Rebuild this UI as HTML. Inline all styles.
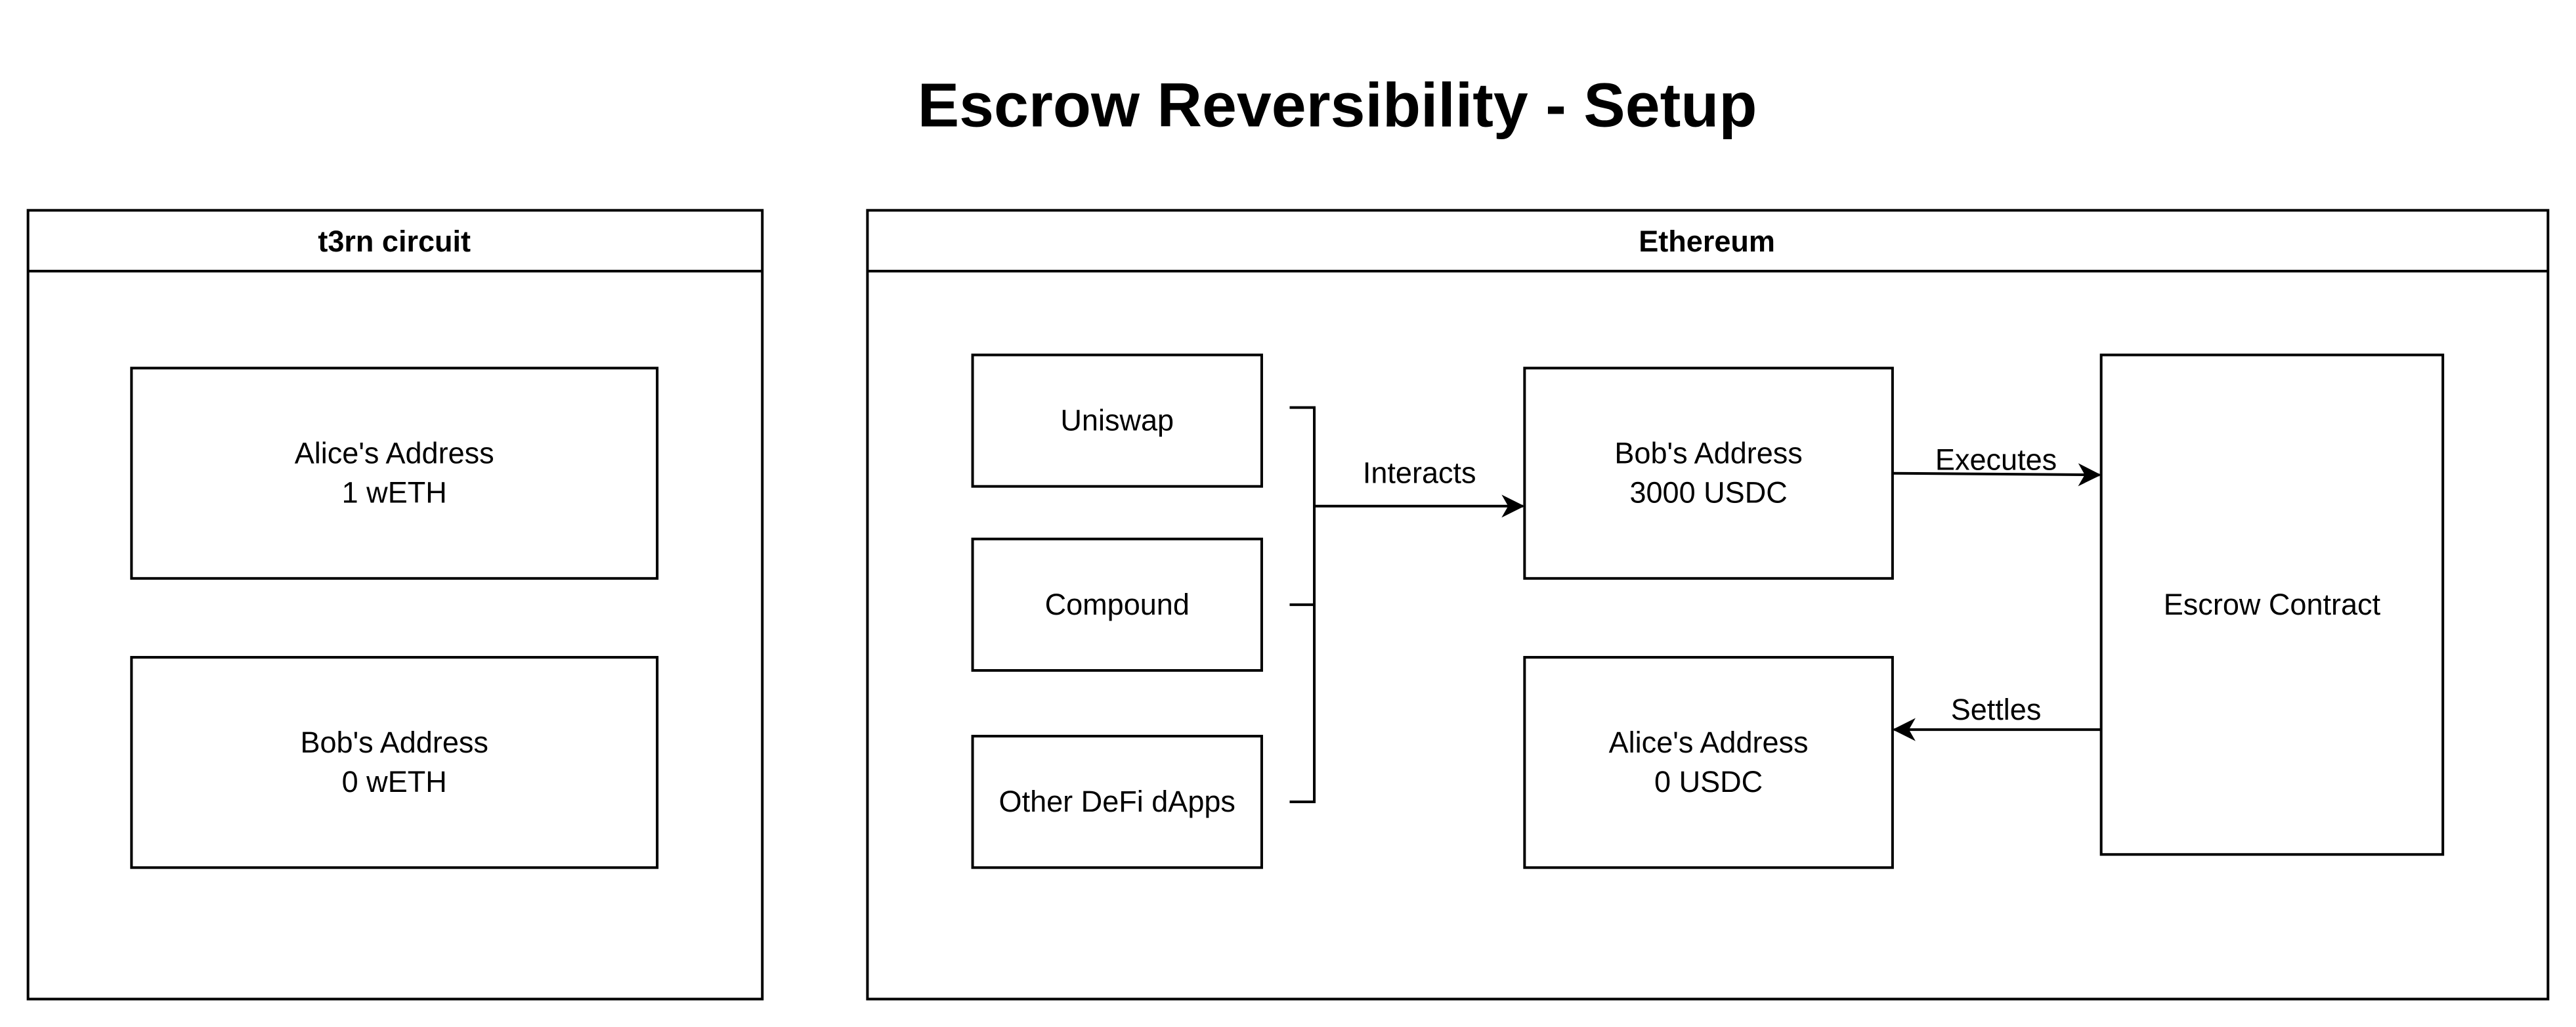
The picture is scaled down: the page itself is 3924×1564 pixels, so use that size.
<!DOCTYPE html>
<html><head><style>html,body{margin:0;padding:0;background:#fff}svg{display:block}</style></head>
<body>
<svg width="3924" height="1564" viewBox="0 0 1568 625" xmlns="http://www.w3.org/2000/svg" font-family="Liberation Sans, Arial, sans-serif">
<rect width="1568" height="625" fill="#fff"/>
<defs><marker id="a" markerWidth="14" markerHeight="14" refX="13" refY="7" orient="auto" markerUnits="userSpaceOnUse"><path d="M0,0 L14,7 L0,14 L4,7 Z" fill="#000"/></marker></defs>
<text x="814" y="77" text-anchor="middle" font-size="38" font-weight="bold">Escrow Reversibility - Setup</text>
<g fill="none" stroke="#000" stroke-width="1.6">
<rect x="17" y="128" width="447" height="480"/><line x1="17" y1="165" x2="464" y2="165"/>
<rect x="80" y="224" width="320" height="128"/><rect x="80" y="400" width="320" height="128"/>
<rect x="528" y="128" width="1023" height="480"/><line x1="528" y1="165" x2="1551" y2="165"/>
<rect x="592" y="216" width="176" height="80"/><rect x="592" y="328" width="176" height="80"/><rect x="592" y="448" width="176" height="80"/>
<polyline points="785,248 800,248 800,488 785,488"/><line x1="785" y1="368" x2="800" y2="368"/>
<line x1="800" y1="308" x2="927" y2="308" marker-end="url(#a)"/>
<rect x="928" y="224" width="224" height="128"/><rect x="928" y="400" width="224" height="128"/>
<rect x="1279" y="216" width="208" height="304"/>
<line x1="1152" y1="288" x2="1278" y2="289" marker-end="url(#a)"/>
<line x1="1279" y1="444" x2="1153" y2="444" marker-end="url(#a)"/>
</g>
<g font-size="18" text-anchor="middle">
<text x="240" y="153" font-weight="bold">t3rn circuit</text>
<text x="1039" y="153" font-weight="bold">Ethereum</text>
<text x="240" y="282">Alice's Address</text><text x="240" y="306">1 wETH</text>
<text x="240" y="458">Bob's Address</text><text x="240" y="482">0 wETH</text>
<text x="680" y="262">Uniswap</text><text x="680" y="374">Compound</text><text x="680" y="494">Other DeFi dApps</text>
<text x="864" y="294">Interacts</text>
<text x="1040" y="282">Bob's Address</text><text x="1040" y="306">3000 USDC</text>
<text x="1040" y="458">Alice's Address</text><text x="1040" y="482">0 USDC</text>
<text x="1383" y="374">Escrow Contract</text>
<text x="1215" y="286">Executes</text>
<text x="1215" y="438">Settles</text>
</g>
</svg>
</body></html>
